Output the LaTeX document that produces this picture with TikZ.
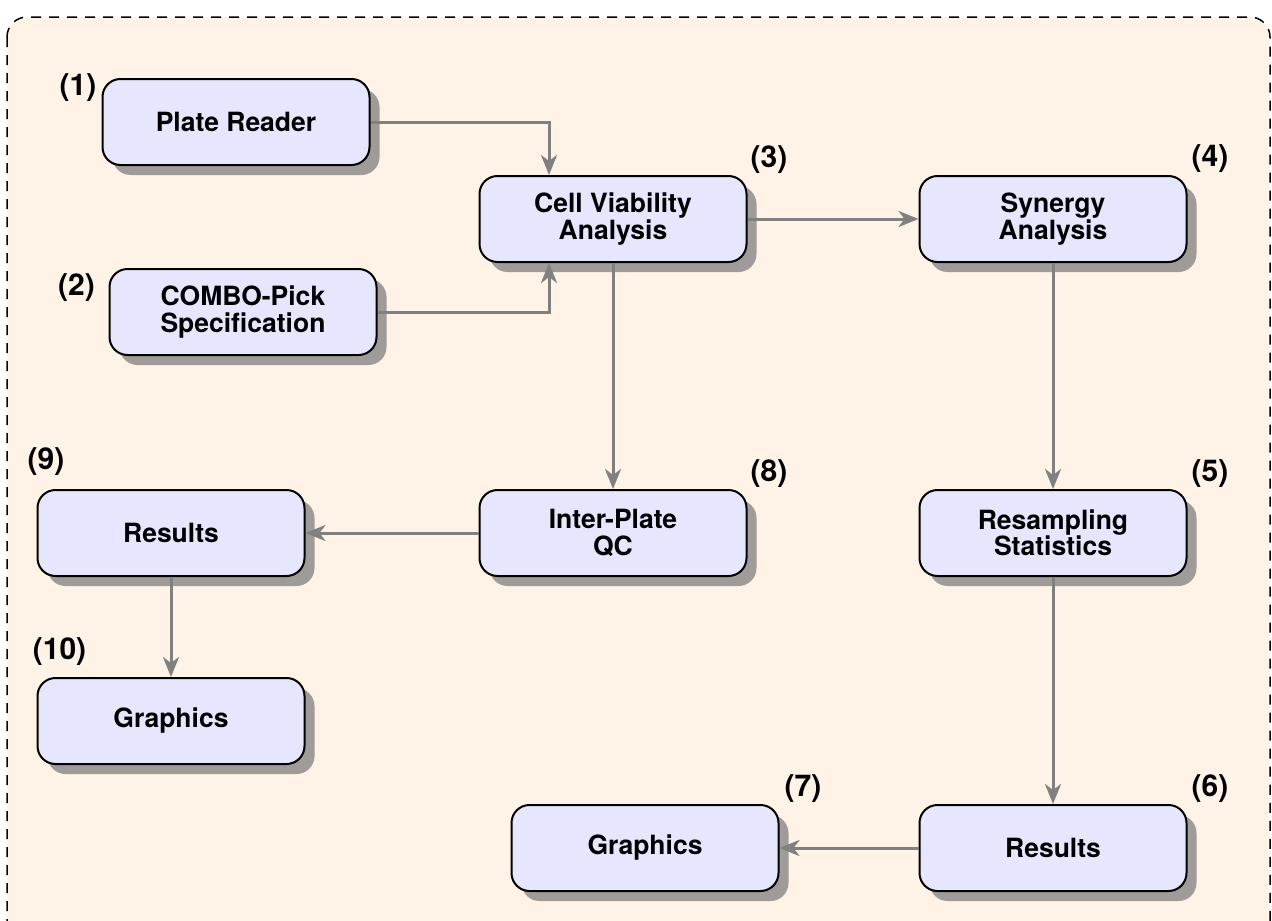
\documentclass[tikz,border=0pt]{standalone}
\usepackage{fontspec}
\setmainfont{TeX Gyre Heros}
\usetikzlibrary{shadows,arrows.meta}
\definecolor{bgc}{RGB}{255,242,230}
\definecolor{boxc}{RGB}{230,230,255}
\definecolor{shc}{RGB}{158,155,152}
\definecolor{arc}{RGB}{128,128,128}
\tikzset{
  stagebox/.style={draw=black, line width=2pt, fill=boxc, rounded corners=18pt,
    minimum width=267pt, minimum height=86pt, align=center, inner sep=0pt,
    font=\fontsize{26.5}{26.5}\selectfont\bfseries,
    drop shadow={shadow xshift=10pt, shadow yshift=-10pt, fill=shc, opacity=1}},
  numlabel/.style={font=\fontsize{30}{30}\selectfont\bfseries, inner sep=0pt},
  flow/.style={draw=arc, line width=3pt, -{Stealth[length=20pt,width=16pt,inset=6pt]}}
}
\begin{document}
\begin{tikzpicture}[x=1pt,y=-1pt]
\useasboundingbox (0,0) rectangle (1272,921);
\draw[line width=1.5pt, dash pattern=on 10pt off 8pt, fill=bgc, rounded corners=20pt] (7,17) rectangle (1270,945);

\node[stagebox] (pr) at (236,122) {Plate Reader};
\node[stagebox] (combo) at (243,312) {COMBO-Pick\\Specification};
\node[stagebox] (cv) at (613,219) {Cell Viability\\Analysis};
\node[stagebox] (syn) at (1053,219) {Synergy\\Analysis};
\node[stagebox] (rs) at (1053,533) {Resampling\\Statistics};
\node[stagebox] (r6) at (1053,848) {Results};
\node[stagebox] (g7) at (645,848) {Graphics};
\node[stagebox] (qc) at (613,533) {Inter-Plate\\QC};
\node[stagebox] (r9) at (171,533) {Results};
\node[stagebox] (g10) at (171,721) {Graphics};

\node[numlabel] (l1) at (78,88) {(1)};
\node[numlabel] (l2) at (76.5,288) {(2)};
\node[numlabel] (l3) at (769,160) {(3)};
\node[numlabel] (l4) at (1210,159) {(4)};
\node[numlabel] (l5) at (1210,474) {(5)};
\node[numlabel] (l6) at (1210,789) {(6)};
\node[numlabel] (l7) at (803,789) {(7)};
\node[numlabel] (l8) at (769,474) {(8)};
\node[numlabel] (l9) at (46,462) {(9)};
\node[numlabel] (l10) at (59.5,652) {(10)};

\coordinate (cvin) at ([xshift=-64pt]cv.north);
\coordinate (cvin2) at ([xshift=-64pt]cv.south);
\draw[flow] (pr.east) -| (cvin);
\draw[flow] (combo.east) -| (cvin2);
\draw[flow] (cv.east) -- (syn.west);
\draw[flow] (cv.south) -- (qc.north);
\draw[flow] (syn.south) -- (rs.north);
\draw[flow] (rs.south) -- (r6.north);
\draw[flow] (r6.west) -- (g7.east);
\draw[flow] (qc.west) -- (r9.east);
\draw[flow] (r9.south) -- (g10.north);
\end{tikzpicture}
\end{document}
